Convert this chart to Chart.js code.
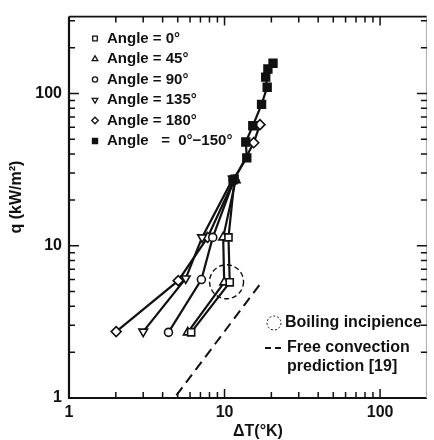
<!DOCTYPE html>
<html>
<head>
<meta charset="utf-8">
<script src="https://cdn.jsdelivr.net/npm/chart.js@4.4.1/dist/chart.umd.min.js"></script>
<style>
  html, body { margin: 0; padding: 0; background: #fff; }
  #wrap { width: 434px; height: 440px; }
</style>
</head>
<body>
<div id="wrap"><canvas id="myChart" width="434" height="440"></canvas></div>
<script>
/* data: dT (K) vs q (kW/m2) */
const angle0X = [6.1, 10.8, 10.6, 11.6];
const angle0Y = [2.7, 5.75, 11.35, 27.5];
const angle45X = [5.8, 9.95, 9.8, 11.8];
const angle45Y = [2.7, 5.75, 11.35, 27];
const angle90X = [4.36, 7.1, 8.4, 11.5];
const angle90Y = [2.7, 6.0, 11.35, 27];
const angle135X = [3.0, 5.63, 7.17, 11.3];
const angle135Y = [2.73, 6.1, 11.35, 27.5];
const angle180X = [2.01, 5.04, 7.78, 11.5, 15.4, 16.9];
const angle180Y = [2.73, 5.9, 11.35, 27, 47.5, 62.4];
const allAnglesX = [11.35, 13.9, 13.7, 15.2, 17.3, 18.8, 18.4, 19.0, 20.5];
const allAnglesY = [27.1, 37.8, 48, 61.4, 84.9, 110, 128, 145, 158];
const freeConvX = [4.9, 17.6];
const freeConvY = [1.04, 5.9];
const incipience = [10.3, 5.8];

const xTickValues = [1, 2, 3, 4, 5, 6, 7, 8, 9, 10, 20, 30, 40, 50, 60, 70, 80, 90, 100, 200];
const yTickValues = [1, 2, 3, 4, 5, 6, 7, 8, 9, 10, 20, 30, 40, 50, 60, 70, 80, 90, 100, 200, 300];
const xTickLabels = [1, 10, 100];
const yTickLabels = [1, 10, 100];
const legendLabels = ['Angle = 0°', 'Angle = 45°', 'Angle = 90°', 'Angle = 135°', 'Angle = 180°', 'Angle   =  0°\u2212150°'];

const ink = '#111';
const font = '"Liberation Sans", Arial, sans-serif';

function pts(xs, ys) {
  return xs.map((x, i) => ({ x: x, y: ys[i] }));
}

// marker looks, same order as legendLabels
const markers = [
  { pointStyle: 'rect', radius: 5, rotation: 0, fill: '#fff' },
  { pointStyle: 'triangle', radius: 5, rotation: 0, fill: '#fff' },
  { pointStyle: 'circle', radius: 4, rotation: 0, fill: '#fff' },
  { pointStyle: 'triangle', radius: 5, rotation: 180, fill: '#fff' },
  { pointStyle: 'rectRot', radius: 5, rotation: 0, fill: '#fff' },
  { pointStyle: 'rect', radius: 5.5, rotation: 0, fill: ink }
];

function series(xs, ys, m) {
  return {
    data: pts(xs, ys),
    showLine: true,
    borderColor: ink,
    borderWidth: 2.2,
    pointStyle: m.pointStyle,
    pointRadius: m.radius,
    pointRotation: m.rotation,
    pointBackgroundColor: m.fill,
    pointBorderColor: ink,
    pointBorderWidth: 1.6,
    tension: 0
  };
}

const decor = {
  id: 'decor',
  beforeDatasetsDraw(chart) {
    const { ctx, chartArea: a, scales: { x, y } } = chart;
    ctx.save();
    // frame
    ctx.strokeStyle = ink;
    ctx.lineWidth = 2.2;
    ctx.beginPath();
    ctx.moveTo(a.left, a.top);
    ctx.lineTo(a.left, a.bottom);
    ctx.lineTo(a.right, a.bottom);
    ctx.stroke();
    ctx.lineWidth = 1.6;
    ctx.beginPath();
    ctx.moveTo(a.left, a.top);
    ctx.lineTo(a.right, a.top);
    ctx.stroke();
    ctx.strokeStyle = '#aaa';
    ctx.lineWidth = 1;
    ctx.beginPath();
    ctx.moveTo(a.right - 0.5, a.top);
    ctx.lineTo(a.right - 0.5, a.bottom);
    ctx.stroke();

    // inward ticks on all four sides
    ctx.strokeStyle = ink;
    ctx.lineWidth = 1.5;
    xTickValues.forEach(v => {
      if (v <= x.min || v >= x.max) return;
      const px = x.getPixelForValue(v);
      const len = xTickLabels.includes(v) ? 9 : 6;
      ctx.beginPath();
      ctx.moveTo(px, a.bottom);
      ctx.lineTo(px, a.bottom - len);
      ctx.moveTo(px, a.top);
      ctx.lineTo(px, a.top + len);
      ctx.stroke();
    });
    yTickValues.forEach(v => {
      if (v <= y.min || v >= y.max) return;
      const py = y.getPixelForValue(v);
      const len = yTickLabels.includes(v) ? 10 : 6;
      ctx.beginPath();
      ctx.moveTo(a.left, py);
      ctx.lineTo(a.left + len, py);
      ctx.moveTo(a.right, py);
      ctx.lineTo(a.right - len, py);
      ctx.stroke();
    });
    ctx.restore();
  },
  afterDatasetsDraw(chart) {
    const { ctx, scales: { x, y } } = chart;
    ctx.save();

    // boiling incipience ring
    ctx.strokeStyle = ink;
    ctx.lineWidth = 1.4;
    ctx.setLineDash([5, 3]);
    ctx.beginPath();
    ctx.arc(x.getPixelForValue(incipience[0]), y.getPixelForValue(incipience[1]), 17, 0, Math.PI * 2);
    ctx.stroke();

    // axis titles
    ctx.setLineDash([]);
    ctx.fillStyle = ink;
    ctx.font = 'bold 16px ' + font;
    ctx.textAlign = 'center';
    ctx.textBaseline = 'middle';
    ctx.fillText('\u0394T(°K)', 258, 432);
    ctx.save();
    ctx.translate(17, 197);
    ctx.rotate(-Math.PI / 2);
    ctx.fillText('q (kW/m²)', 0, 0);
    ctx.restore();

    // angle legend
    ctx.font = 'bold 15px ' + font;
    ctx.textAlign = 'left';
    legendLabels.forEach((label, i) => {
      const ly = 38.5 + i * 20.5;
      const m = markers[i];
      ctx.fillStyle = m.fill;
      ctx.strokeStyle = ink;
      ctx.lineWidth = 1.3;
      Chart.helpers.drawPoint(ctx, {
        pointStyle: m.pointStyle,
        radius: m.radius * 0.65,
        rotation: m.rotation,
        borderWidth: 1.3
      }, 95, ly);
      ctx.fillStyle = ink;
      ctx.fillText(label, 107, ly);
    });

    // note legend
    ctx.font = 'bold 16px ' + font;
    ctx.lineWidth = 1;
    ctx.setLineDash([2, 2]);
    ctx.beginPath();
    ctx.arc(274, 323, 7, 0, Math.PI * 2);
    ctx.stroke();
    ctx.lineWidth = 1.8;
    ctx.setLineDash([6, 4]);
    ctx.beginPath();
    ctx.moveTo(265, 348);
    ctx.lineTo(283, 348);
    ctx.stroke();
    ctx.setLineDash([]);
    ctx.fillText('Boiling incipience', 285, 323);
    ctx.fillText('Free convection', 287, 348);
    ctx.fillText('prediction [19]', 287, 367);
    ctx.restore();
  }
};

const tickFont = { family: font, size: 16, weight: 'bold' };

new Chart(document.getElementById('myChart'), {
  type: 'scatter',
  data: {
    datasets: [
      series(allAnglesX, allAnglesY, markers[5]),
      series(angle0X, angle0Y, markers[0]),
      series(angle45X, angle45Y, markers[1]),
      series(angle90X, angle90Y, markers[2]),
      series(angle135X, angle135Y, markers[3]),
      series(angle180X, angle180Y, markers[4]),
      {
        data: pts(freeConvX, freeConvY),
        showLine: true,
        borderColor: ink,
        borderWidth: 2,
        borderDash: [10, 6],
        pointRadius: 0
      }
    ]
  },
  options: {
    responsive: false,
    animation: false,
    devicePixelRatio: 1,
    layout: { padding: { top: 11, right: 1, left: 0, bottom: 0 } },
    plugins: { legend: { display: false }, tooltip: { enabled: false } },
    scales: {
      x: {
        type: 'logarithmic',
        min: 1,
        max: 200,
        afterFit(s) { s.height = 42; },
        afterBuildTicks(s) { s.ticks = xTickValues.map(v => ({ value: v })); },
        ticks: {
          autoSkip: false,
          maxRotation: 0,
          padding: 5,
          color: ink,
          font: tickFont,
          callback: v => xTickLabels.includes(v) ? String(v) : ''
        },
        grid: { display: false, drawTicks: false, tickLength: 0 },
        border: { display: false }
      },
      y: {
        type: 'logarithmic',
        min: 1,
        max: 320,
        afterFit(s) { s.width = 69; },
        afterBuildTicks(s) { s.ticks = yTickValues.map(v => ({ value: v })); },
        ticks: {
          autoSkip: false,
          padding: 7,
          color: ink,
          font: tickFont,
          callback: v => yTickLabels.includes(v) ? String(v) : ''
        },
        grid: { display: false, drawTicks: false, tickLength: 0 },
        border: { display: false }
      }
    }
  },
  plugins: [decor]
});
</script>
</body>
</html>
